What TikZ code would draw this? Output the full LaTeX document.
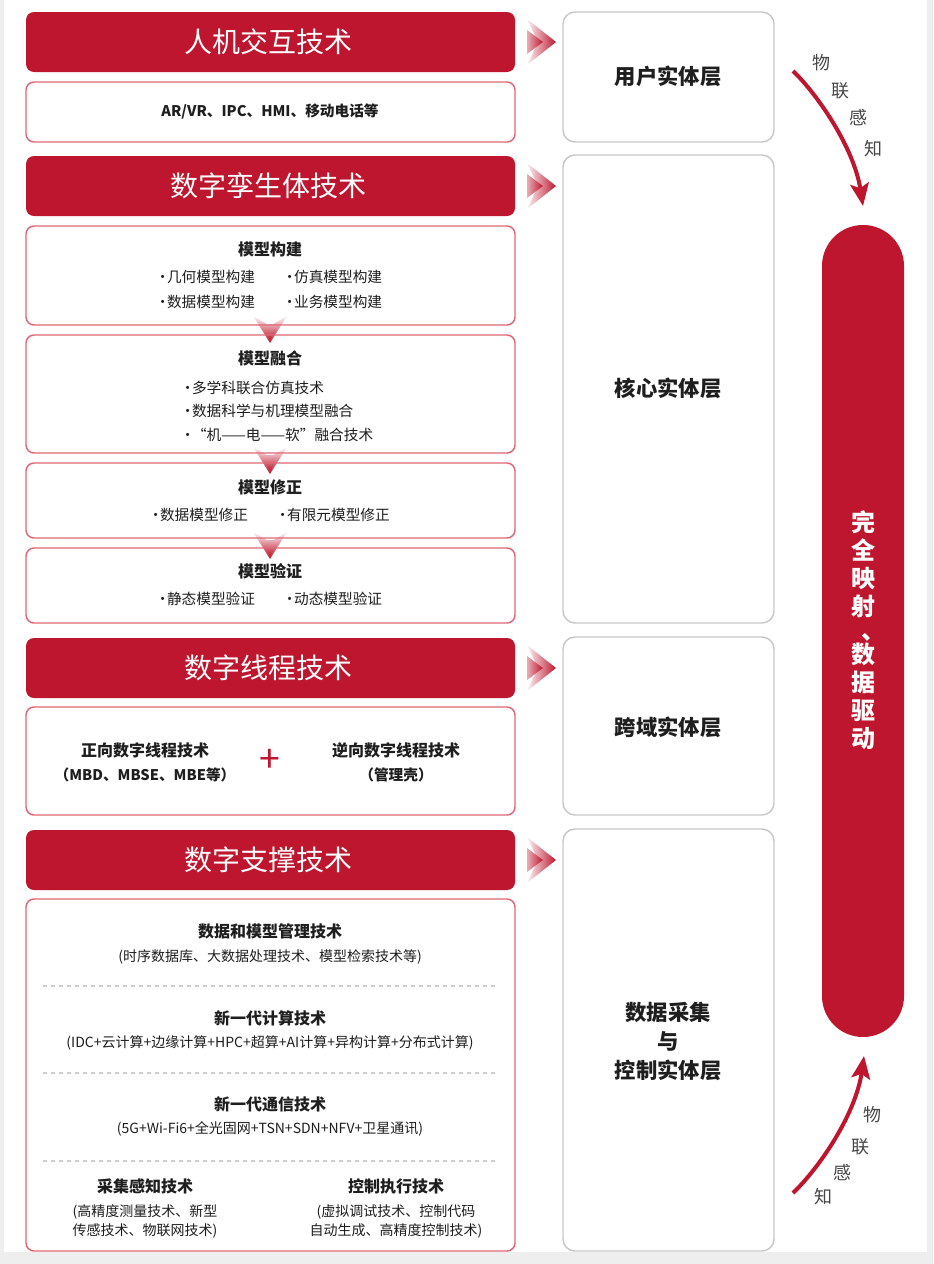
\documentclass[tikz,border=0pt]{standalone}
\usepackage{fontspec}
\setmainfont{Noto Sans CJK SC}
\usetikzlibrary{fit,arrows.meta,shadings}
\definecolor{myred}{RGB}{190,22,46}
\definecolor{pinkline}{RGB}{224,104,118}
\definecolor{grayline}{RGB}{200,200,200}
\definecolor{textcol}{RGB}{30,30,30}
\definecolor{bggray}{RGB}{238,238,238}
\definecolor{dashgray}{RGB}{205,205,205}
\newcommand{\bul}{\makebox[0.6em][c]{·}}
\newcommand{\RChev}[1]{%
  \begin{scope}[shift={(0,#1)}]
    \shade[left color=myred!4, right color=myred] (527,-23) -- (556,0) -- (527,23) -- (538,0) -- cycle;
    \shade[left color=myred!35, right color=myred] (527,-12) -- (543,0) -- (527,12) -- cycle;
  \end{scope}}
\newcommand{\DChev}[1]{%
  \begin{scope}[shift={(0,#1)}]
    \shade[top color=myred!4, bottom color=myred] (253,0) -- (270,27) -- (287,0) -- (270,10) -- cycle;
    \shade[top color=myred!35, bottom color=myred] (259,8) -- (270,24) -- (281,8) -- cycle;
  \end{scope}}
\begin{document}
\begin{tikzpicture}[x=0.75pt,y=-0.75pt,
  hdr/.style={fill=myred, draw=none, rounded corners=6pt, inner sep=0pt},
  sub/.style={draw=pinkline, line width=1.1pt, rounded corners=6pt, inner sep=0pt},
  layer/.style={draw=grayline, line width=1.1pt, rounded corners=9pt, inner sep=0pt},
  htext/.style={text=white, font=\fontsize{21}{24}\selectfont},
  ltext/.style={font=\bfseries\fontsize{16}{21.75}\selectfont, text=textcol, align=center},
  stitle/.style={font=\bfseries\fontsize{12}{14}\selectfont, text=textcol},
  item/.style={font=\fontsize{11}{13}\selectfont, text=textcol, anchor=west, inner sep=0pt},
  paren/.style={font=\fontsize{10.5}{14.25}\selectfont, text=textcol, align=center},
  bparen/.style={font=\bfseries\fontsize{11}{13}\selectfont, text=textcol, align=center},
  side/.style={font=\fontsize{13.5}{15}\selectfont, text=black!72},
  flow/.style={draw=myred, line width=3pt, -{Stealth[length=17pt,width=14pt,inset=3.5pt]}},
  sep/.style={draw=dashgray, line width=0.8pt, dash pattern=on 3pt off 3pt}
]
\useasboundingbox (0,0) rectangle (933,1264);
\fill[bggray] (0,0) rectangle (933,1264);
\fill[white] (4,0) rectangle (927,1252);

% chevrons (drawn below box borders)
\RChev{42}
\RChev{186}
\RChev{668}
\RChev{860}
\DChev{316}
\DChev{447}
\DChev{532}

% left column
\node[hdr, fit={(26,12) (515,72)}] (h1) {};
\node[sub, fit={(26,82) (515,142)}] (s1) {};
\node[hdr, fit={(26,156) (515,216)}] (h2) {};
\node[sub, fit={(26,226) (515,325)}] (b1) {};
\node[sub, fit={(26,335) (515,453)}] (b2) {};
\node[sub, fit={(26,463) (515,538)}] (b3) {};
\node[sub, fit={(26,548) (515,623)}] (b4) {};
\node[hdr, fit={(26,638) (515,698)}] (h3) {};
\node[sub, fit={(26,707) (515,815)}] (s3) {};
\node[hdr, fit={(26,830) (515,890)}] (h4) {};
\node[sub, fit={(26,899) (515,1251)}] (s4) {};

% middle column
\node[layer, fit={(563,12) (774,142)}] (L1) {};
\node[layer, fit={(563,155) (774,623)}] (L2) {};
\node[layer, fit={(563,637) (774,815)}] (L3) {};
\node[layer, fit={(563,829) (774,1251)}] (L4) {};

% pill
\fill[myred, rounded corners=30.7pt] (822,225) rectangle (904,1037);
\node[text=white, font=\bfseries\fontsize{18}{21}\selectfont, align=center] (pilltext) at (863,630)
  {完\\全\\映\\射\\[-3pt]\makebox[1em][l]{\kern0.45em 、}\\[-3pt]数\\据\\驱\\动};

% header titles
\node[htext] (t1) at (268,42) {人机交互技术};
\node[htext] (t2) at (268,186) {数字孪生体技术};
\node[htext] (t3) at (268,668) {数字线程技术};
\node[htext] (t4) at (268,860) {数字支撑技术};

\node[bparen] (ar) at (270,111) {AR/VR、IPC、HMI、移动电话等};

% model boxes
\node[stitle] (m1) at (270,249) {模型构建};
\node[item] (m1a) at (158,277) {\bul 几何模型构建};
\node[item] (m1b) at (285,277) {\bul 仿真模型构建};
\node[item] (m1c) at (158,302) {\bul 数据模型构建};
\node[item] (m1d) at (285,302) {\bul 业务模型构建};

\node[stitle] (m2) at (270,358) {模型融合};
\node[item] (m2a) at (183,388) {\bul 多学科联合仿真技术};
\node[item] (m2b) at (183,411) {\bul 数据科学与机理模型融合};
\node[item] (m2c) at (183,435) {\bul “机——电——软”融合技术};

\node[stitle] (m3) at (270,487) {模型修正};
\node[item] (m3a) at (151,515) {\bul 数据模型修正};
\node[item] (m3b) at (278,515) {\bul 有限元模型修正};

\node[stitle] (m4) at (270,571) {模型验证};
\node[item] (m4a) at (158,599) {\bul 静态模型验证};
\node[item] (m4b) at (285,599) {\bul 动态模型验证};

% digital thread
\node[stitle] (dt1) at (145,750) {正向数字线程技术};
\node[bparen] (dt1p) at (145,775) {（MBD、MBSE、MBE等）};
\node[text=myred, font=\fontsize{28}{28}\selectfont] (plus) at (270,761) {+};
\node[stitle] (dt2) at (396,750) {逆向数字线程技术};
\node[bparen] (dt2p) at (396,775) {（管理壳）};

% support technologies
\node[stitle] (sp1) at (270,931) {数据和模型管理技术};
\node[paren] (sp1p) at (270,957) {(时序数据库、大数据处理技术、模型检索技术等)};
\draw[sep] (43,986) -- (498,986);
\node[stitle] (sp2) at (270,1018) {新一代计算技术};
\node[paren] (sp2p) at (270,1043) {(IDC+云计算+边缘计算+HPC+超算+AI计算+异构计算+分布式计算)};
\draw[sep] (43,1073) -- (498,1073);
\node[stitle] (sp3) at (270,1104) {新一代通信技术};
\node[paren] (sp3p) at (270,1129) {(5G+Wi-Fi6+全光固网+TSN+SDN+NFV+卫星通讯)};
\draw[sep] (43,1161) -- (498,1161);
\node[stitle] (sp4) at (145,1186) {采集感知技术};
\node[paren] (sp4p) at (145,1221.5) {(高精度测量技术、新型\\传感技术、物联网技术)};
\node[stitle] (sp5) at (396,1186) {控制执行技术};
\node[paren] (sp5p) at (396,1221.5) {(虚拟调试技术、控制代码\\自动生成、高精度控制技术)};

% layer labels
\node[ltext] (l1) at (668,76) {用户实体层};
\node[ltext] (l2) at (668,388) {核心实体层};
\node[ltext] (l3) at (668,727) {跨域实体层};
\node[ltext] (l4) at (668,1041) {数据采集\\与\\控制实体层};

% IoT sensing arrows
\coordinate (ta) at (793,71);
\coordinate (tb) at (863,206);
\draw[flow] (ta) .. controls (818,95) and (854,148) .. (tb);
\node[side] (w1) at (821,63) {物};
\node[side] (w2) at (840,91) {联};
\node[side] (w3) at (858,118) {感};
\node[side] (w4) at (873,149) {知};

\coordinate (ba) at (793,1193);
\coordinate (bb) at (864,1056);
\draw[flow] (ba) .. controls (822,1165) and (856,1112) .. (bb);
\node[side] (v1) at (872,1115) {物};
\node[side] (v2) at (860,1147) {联};
\node[side] (v3) at (842,1173) {感};
\node[side] (v4) at (823,1197) {知};
\end{tikzpicture}
\end{document}
